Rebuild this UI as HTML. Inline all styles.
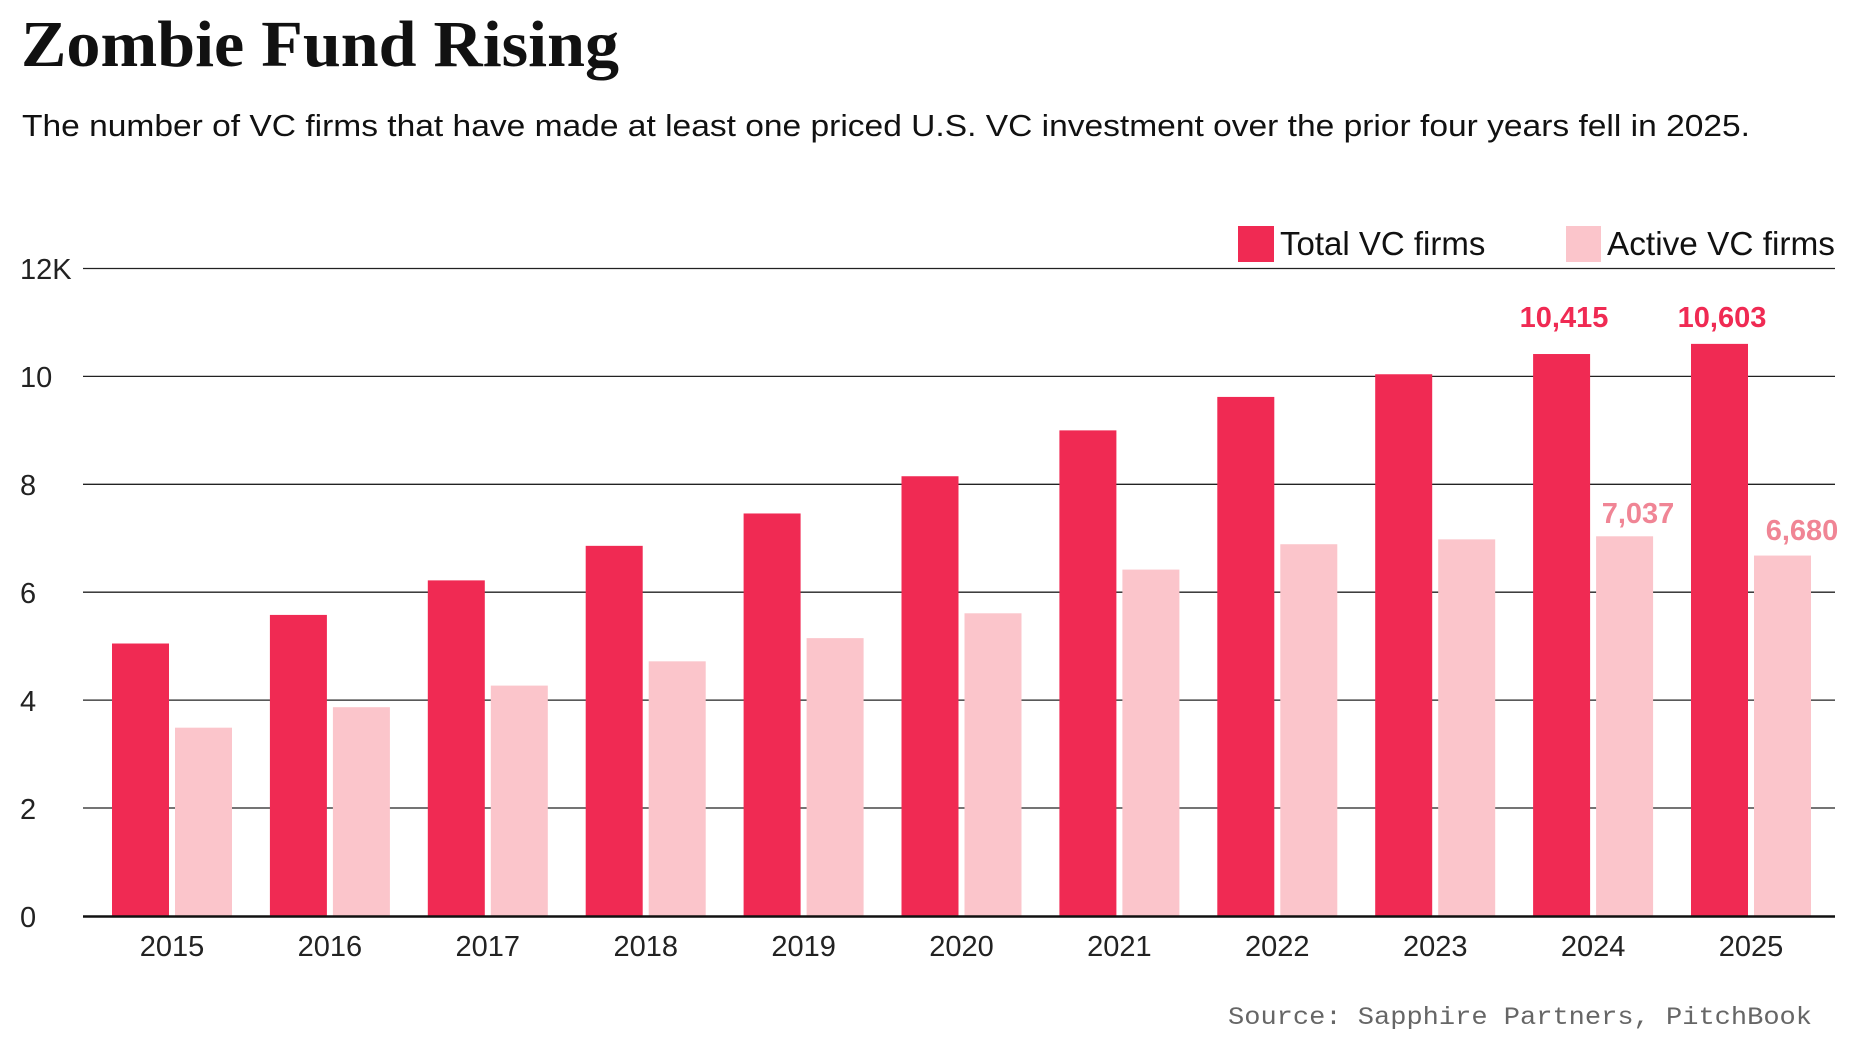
<!DOCTYPE html>
<html><head><meta charset="utf-8"><style>
html,body{margin:0;padding:0;background:#fff;}
svg{display:block}
</style></head><body>
<svg width="1860" height="1046" viewBox="0 0 1860 1046" xmlns="http://www.w3.org/2000/svg">
<text x="21" y="66" font-family="Liberation Serif, serif" font-size="66" font-weight="bold" fill="#111" textLength="598" lengthAdjust="spacingAndGlyphs">Zombie Fund Rising</text>
<text x="22" y="136" font-family="Liberation Sans, sans-serif" font-size="31" fill="#111" textLength="1728" lengthAdjust="spacingAndGlyphs">The number of VC firms that have made at least one priced U.S. VC investment over the prior four years fell in 2025.</text>
<rect x="1238" y="226" width="36" height="36" fill="#f02a53"/>
<text x="1280" y="255" font-family="Liberation Sans, sans-serif" font-size="33" fill="#111">Total VC firms</text>
<rect x="1566" y="226" width="35" height="36" fill="#fbc5cb"/>
<text x="1607" y="255" font-family="Liberation Sans, sans-serif" font-size="33" fill="#111" textLength="228" lengthAdjust="spacingAndGlyphs">Active VC firms</text>
<g stroke="#222" stroke-width="1.3">
<line x1="83" x2="1835" y1="268.5" y2="268.5"/>
<line x1="83" x2="1835" y1="376.4" y2="376.4"/>
<line x1="83" x2="1835" y1="484.3" y2="484.3"/>
<line x1="83" x2="1835" y1="592.2" y2="592.2"/>
<line x1="83" x2="1835" y1="700.1" y2="700.1"/>
<line x1="83" x2="1835" y1="808" y2="808"/>
</g>
<g font-family="Liberation Sans, sans-serif" font-size="29" fill="#222">
<text x="20" y="279">12K</text><text x="20" y="387">10</text><text x="20" y="495">8</text><text x="20" y="603">6</text><text x="20" y="711">4</text><text x="20" y="819">2</text><text x="20" y="927">0</text>
</g>
<g id="bars"></g>
<line x1="83" x2="1835" y1="916.5" y2="916.5" stroke="#111" stroke-width="2.5"/>
<g font-family="Liberation Sans, sans-serif" font-size="29" fill="#222" text-anchor="middle" id="years"></g>
<g font-family="Liberation Sans, sans-serif" font-size="29" font-weight="bold" text-anchor="middle">
<text x="1564" y="327" fill="#f02a53">10,415</text>
<text x="1722" y="327" fill="#f02a53">10,603</text>
<text x="1638" y="523" fill="#f08595">7,037</text>
<text x="1802" y="540" fill="#f08595">6,680</text>
</g>
<text x="1812" y="1024" text-anchor="end" font-family="Liberation Mono, monospace" font-size="25" fill="#666" textLength="584" lengthAdjust="spacingAndGlyphs">Source: Sapphire Partners, PitchBook</text>
<script>
var t=[5050,5580,6220,6860,7460,8150,9000,9620,10040,10415,10603];
var a=[3490,3870,4270,4720,5150,5610,6420,6890,6980,7037,6680];
var b=document.getElementById('bars'),yg=document.getElementById('years'),ns='http://www.w3.org/2000/svg';
function y(v){return 916-v/12000*647.5;}
for(var i=0;i<11;i++){var x=112+i*157.9;
var r=document.createElementNS(ns,'rect');r.setAttribute('x',x);r.setAttribute('width',57);r.setAttribute('y',y(t[i]));r.setAttribute('height',916-y(t[i]));r.setAttribute('fill','#f02a53');b.appendChild(r);
r=document.createElementNS(ns,'rect');r.setAttribute('x',x+63);r.setAttribute('width',57);r.setAttribute('y',y(a[i]));r.setAttribute('height',916-y(a[i]));r.setAttribute('fill','#fbc5cb');b.appendChild(r);
var tx=document.createElementNS(ns,'text');tx.setAttribute('x',x+60);tx.setAttribute('y',956);tx.textContent=2015+i;yg.appendChild(tx);}
</script>
</svg>
</body></html>
